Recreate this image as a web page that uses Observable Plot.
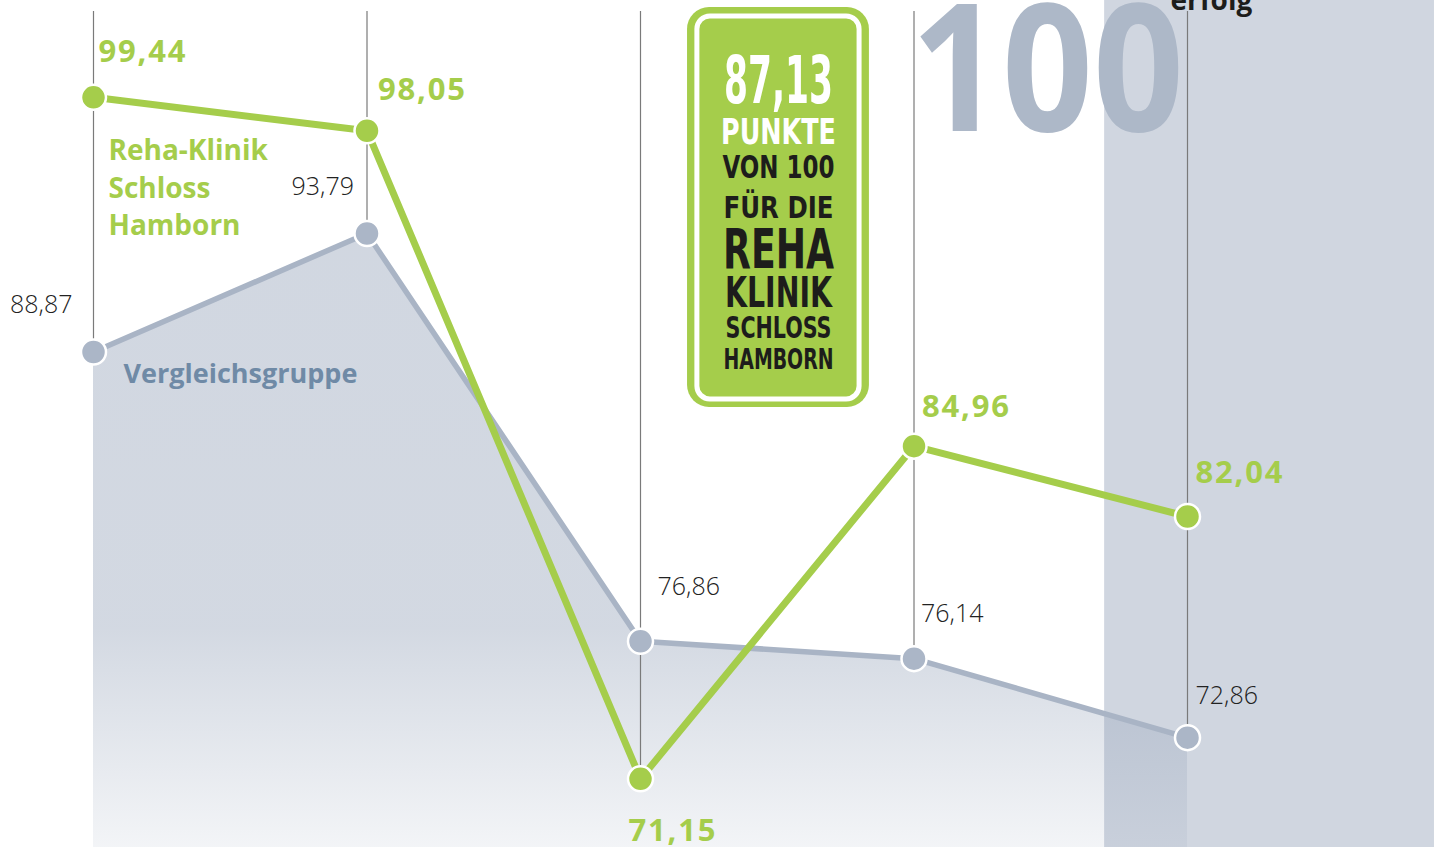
<!DOCTYPE html>
<html><head><meta charset="utf-8">
<script src="https://cdn.jsdelivr.net/npm/d3@7"></script>
<script src="https://cdn.jsdelivr.net/npm/@observablehq/plot@0.6"></script>
<style>html,body{margin:0;padding:0;background:#fff;overflow:hidden}#chart svg{display:block}</style>
</head><body><div id="chart"></div>
<script>
// ---- data ----
const positions = [0, 1, 2, 3, 4];
const klinik = [99.44, 98.05, 71.15, 84.96, 82.04];
const vergleich = [88.87, 93.79, 76.86, 76.14, 72.86];
const klinikName = "Reha-Klinik\nSchloss\nHamborn";
const vergleichName = "Vergleichsgruppe";
const boxLines = ["87,13", "PUNKTE", "VON 100", "FÜR DIE", "REHA", "KLINIK", "SCHLOSS", "HAMBORN"];
const bigNumber = "100";
const cornerWord = "erfolg";

// ---- layout & style ----
const green = "#a5cd4b", grayDot = "#abb6c7", grayLine = "#a9b4c5";
const yBottom = 68.3, yTop = 103.46, ruleTop = 103.0;
const band = {x1: 3.697, x2: 4.903};
const box = {x1: 2.172, x2: 2.837, y1: 86.57, y2: 103.17};
const boxInner = {x1: 2.208, x2: 2.801, y1: 86.90, y2: 102.80};
const klinikDx = [5, 11, -12, 8, 8], klinikDy = [-35, -31, 62, -29, -34];
const vergDx = [-21, -13, 17, 7, 8], vergDy = [-39, -38, -46, -37, -34];
const vergAnchor = ["end", "end", "start", "start", "start"];
const boxBase = [102, 143, 177, 217, 267, 306, 337, 368];
const boxSize = [65, 36, 32, 30, 56, 43, 31, 28];
const boxWidth = [109, 115, 112, 110, 111, 107, 106, 110];
const boxFill = ["#fff", "#fff", "#1d1d1b", "#1d1d1b", "#1d1d1b", "#1d1d1b", "#1d1d1b", "#1d1d1b"];
const fmt = v => v.toFixed(2).replace(".", ",");
const sans = "'Open Sans', 'DejaVu Sans', sans-serif";
const narrow = "'Liberation Sans Narrow', 'DejaVu Sans Condensed', sans-serif";

const marks = [
  Plot.rect([band], {x1: "x1", x2: "x2", fill: "#d0d6e0"}),
  Plot.areaY(positions, {x: i => i, y1: yBottom, y2: i => vergleich[i], fill: "url(#areaGrad)"}),
  Plot.text([bigNumber], {frameAnchor: "top-left", dx: 1047, dy: 130, lineAnchor: "bottom", textAnchor: "middle",
    text: d => d, fontSize: 177, fontWeight: "bold", fill: "#adb8c8", fontFamily: sans}),
  Plot.text([cornerWord], {frameAnchor: "top-left", dx: 1170, dy: 9, lineAnchor: "bottom", textAnchor: "start",
    text: d => d, fontSize: 28, fontWeight: "bold", fill: "#1d1d1b", fontFamily: sans}),
  Plot.ruleX(positions, {x: i => i, y1: i => Math.min(klinik[i], vergleich[i]), y2: ruleTop, stroke: "#7a7a7a", strokeWidth: 1.2}),
  Plot.line(positions, {x: i => i, y: i => vergleich[i], stroke: grayLine, strokeWidth: 5.5}),
  Plot.line(positions, {x: i => i, y: i => klinik[i], stroke: green, strokeWidth: 7}),
  Plot.dot(positions, {x: i => i, y: i => vergleich[i], r: 12.5, fill: grayDot, stroke: "#fff", strokeWidth: 2.5}),
  Plot.dot(positions, {x: i => i, y: i => klinik[i], r: 12.5, fill: green, stroke: "#fff", strokeWidth: 2.5}),
  ...positions.map(i => Plot.text([klinik[i]], {x: i, y: d => d, text: fmt, dx: klinikDx[i], dy: klinikDy[i],
    lineAnchor: "bottom", textAnchor: "start", fontSize: 31, fontWeight: "bold", fill: green, fontFamily: sans})),
  ...positions.map(i => Plot.text([vergleich[i]], {x: i, y: d => d, text: fmt, dx: vergDx[i], dy: vergDy[i],
    lineAnchor: "bottom", textAnchor: vergAnchor[i], fontSize: 25, fontWeight: 300, fill: "#222", fontFamily: sans})),
  Plot.text([klinikName], {x: 0, y: klinik[0], text: d => d, dx: 15, dy: 138, lineAnchor: "bottom", textAnchor: "start",
    lineHeight: 1.34, fontSize: 28, fontWeight: "bold", fill: green, fontFamily: sans}),
  Plot.text([vergleichName], {x: 0, y: vergleich[0], text: d => d, dx: 30, dy: 31, lineAnchor: "bottom", textAnchor: "start",
    fontSize: 27, fontWeight: "bold", fill: "#6f8aa6", fontFamily: sans}),
  Plot.rect([box], {x1: "x1", x2: "x2", y1: "y1", y2: "y2", fill: green, rx: 22}),
  Plot.rect([boxInner], {x1: "x1", x2: "x2", y1: "y1", y2: "y2", fill: "none", stroke: "#fff", strokeWidth: 5, rx: 13}),
  ...boxLines.map((t, k) => Plot.text([t], {frameAnchor: "top-left", dx: 778, dy: boxBase[k], lineAnchor: "bottom",
    textAnchor: "middle", text: d => d, fontSize: boxSize[k], fontWeight: "bold", fill: boxFill[k], fontFamily: narrow}))
];

const svg = Plot.plot({
  width: 1446, height: 847, margin: 0,
  x: {domain: [0, 4], range: [93, 1187], axis: null},
  y: {domain: [yBottom, yTop], range: [847, 0], axis: null},
  marks
});

const defs = d3.select(svg).insert("defs", ":first-child");
const grad = defs.append("linearGradient").attr("id", "areaGrad")
  .attr("gradientUnits", "userSpaceOnUse").attr("x1", 0).attr("y1", 0).attr("x2", 0).attr("y2", 847);
grad.append("stop").attr("offset", 0).attr("stop-color", "#8494ae").attr("stop-opacity", 0.383);
grad.append("stop").attr("offset", 0.74).attr("stop-color", "#8494ae").attr("stop-opacity", 0.36);
grad.append("stop").attr("offset", 1).attr("stop-color", "#8494ae").attr("stop-opacity", 0.1);

const lengths = {"100": 273};
boxLines.forEach((t, k) => lengths[t] = boxWidth[k]);
const greenLabels = new Set(klinik.map(fmt));
d3.select(svg).selectAll("text").each(function () {
  const t = this.textContent;
  if (lengths[t] !== undefined) {
    this.setAttribute("textLength", lengths[t]);
    this.setAttribute("lengthAdjust", "spacingAndGlyphs");
  }
  if (greenLabels.has(t)) this.style.letterSpacing = "1.8px";
});
document.getElementById("chart").appendChild(svg);
</script>
</body></html>
